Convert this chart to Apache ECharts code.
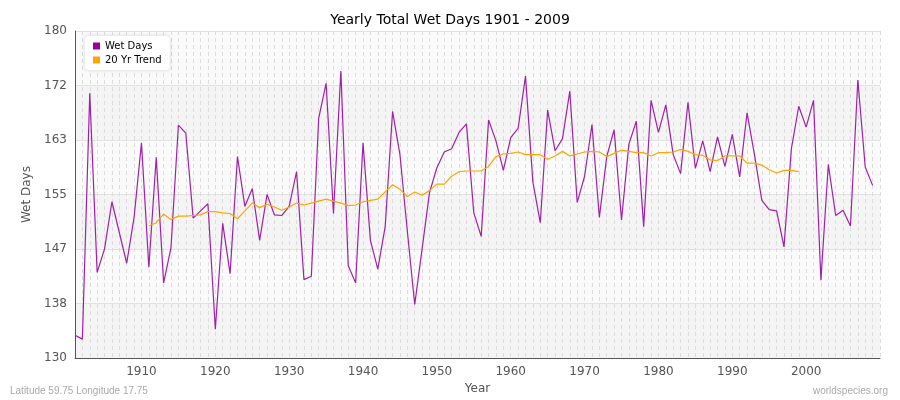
<!DOCTYPE html>
<html>
<head>
<meta charset="utf-8">
<script src="https://cdn.jsdelivr.net/npm/echarts@6/dist/echarts.min.js"></script>
<style>html,body{margin:0;background:#fff}#chart{width:900px;height:400px}</style>
</head>
<body>
<div id="chart"></div>
<script>
var years = [];
for (var y = 1901; y <= 2010; y++) years.push(String(y));

var wetDays = [133.5, 132.9, 170.5, 143.1, 146.7, 153.9, 149.2, 144.5, 151.5, 162.9,
  143.9, 160.7, 141.5, 146.9, 165.6, 164.4, 151.4, 152.5, 153.6, 134.4,
  150.6, 142.9, 160.8, 153.2, 155.9, 148.0, 155.0, 151.9, 151.8, 153.2,
  158.5, 142.0, 142.5, 166.7, 172.0, 152.1, 173.9, 144.1, 141.5, 162.9,
  148.0, 143.6, 150.1, 167.7, 161.1, 149.4, 138.2, 146.7, 155.3, 159.1,
  161.5, 162.0, 164.5, 165.8, 152.2, 148.6, 166.4, 163.2, 158.7, 163.7,
  165.1, 173.1, 156.9, 150.7, 167.9, 161.7, 163.5, 170.8, 153.8, 157.8,
  165.7, 151.5, 160.8, 164.9, 151.1, 162.7, 166.2, 150.1, 169.4, 164.5,
  168.7, 161.1, 158.2, 169.1, 159.0, 163.2, 158.5, 163.8, 159.3, 164.2,
  157.7, 167.5, 161.1, 154.1, 152.7, 152.5, 147.0, 162.0, 168.5, 165.3,
  169.4, 141.9, 159.6, 151.8, 152.6, 150.2, 172.5, 159.2, 156.4];

// 20 yr trend, 1911 - 1999
var trend = [150.2, 150.7, 152.0, 151.2, 151.7, 151.7, 151.8, 151.9, 152.4, 152.4,
  152.2, 152.1, 151.3, 152.5, 153.7, 153.0, 153.5, 153.1, 152.6, 153.1,
  153.7, 153.4, 153.7, 154.0, 154.3, 154.0, 153.7, 153.3, 153.4, 153.9,
  154.1, 154.3, 155.4, 156.5, 155.8, 154.7, 155.4, 154.9, 155.6, 156.6,
  156.6, 157.8, 158.5, 158.6, 158.6, 158.6, 159.3, 160.8, 161.2, 161.3,
  161.5, 161.1, 161.1, 161.1, 160.4, 160.9, 161.6, 160.9, 161.2, 161.5,
  161.6, 161.5, 160.8, 161.3, 161.8, 161.6, 161.4, 161.4, 160.9, 161.4,
  161.4, 161.5, 161.9, 161.6, 161.1, 161.0, 160.3, 160.2, 160.9, 160.9,
  160.9, 159.8, 159.8, 159.5, 158.8, 158.3, 158.7, 158.7, 158.5];

var trendSeries = [];
for (var i = 0; i < years.length; i++) {
  var idx = i - 10;
  trendSeries.push(idx >= 0 && idx < trend.length ? trend[idx] : null);
}

var chart = echarts.init(document.getElementById('chart'));
chart.setOption({
  animation: false,
  textStyle: { fontFamily: 'DejaVu Sans' },
  title: {
    text: 'Yearly Total Wet Days 1901 - 2009',
    left: 'center', top: 8,
    textStyle: { fontSize: 14, fontWeight: 'normal', color: '#000' }
  },
  legend: {
    left: 85, top: 36, orient: 'vertical', itemWidth: 7, itemHeight: 7, itemGap: 4,
    backgroundColor: '#fff', padding: [5, 8],
    borderRadius: 4, shadowColor: 'rgba(0,0,0,0.15)', shadowBlur: 4,
    textStyle: { fontSize: 10, color: '#000' },
    data: [{ name: 'Wet Days', icon: 'rect' }, { name: '20 Yr Trend', icon: 'rect' }]
  },
  grid: { left: 75, right: 20, top: 31, bottom: 38 },
  xAxis: {
    type: 'category', data: years, boundaryGap: false,
    name: 'Year', nameLocation: 'middle', nameGap: 22,
    nameTextStyle: { color: '#555', fontSize: 12 },
    axisLine: { lineStyle: { color: '#555' } },
    axisTick: { show: false },
    axisLabel: {
      color: '#555', fontSize: 12, interval: 0,
      formatter: function (v) { return (+v) % 10 === 0 && +v < 2010 ? v : ''; }
    },
    splitLine: { show: true, interval: 0, lineStyle: { color: '#ddd', type: [4, 3] } }
  },
  yAxis: {
    type: 'value', min: 130, max: 180, interval: 50 / 6,
    name: 'Wet Days', nameLocation: 'middle', nameGap: 40,
    nameTextStyle: { color: '#555', fontSize: 12 },
    axisLine: { show: true, lineStyle: { color: '#555' } },
    axisLabel: { color: '#555', fontSize: 12, formatter: function (v) { return Math.round(v); } },
    splitLine: { lineStyle: { color: '#e2e2e2' } },
    splitArea: { show: true, areaStyle: { color: ['#f4f4f4', '#fafafa'] } }
  },
  series: [
    {
      name: 'Wet Days', type: 'line', data: wetDays, symbol: 'none',
      itemStyle: { color: '#990099' }, lineStyle: { width: 1.2, color: '#a020a8' }
    },
    {
      name: '20 Yr Trend', type: 'line', data: trendSeries, symbol: 'none',
      itemStyle: { color: '#ffa500' }, lineStyle: { width: 1.2, color: '#ffa500' }
    }
  ],
  graphic: [
    { type: 'text', left: 10, top: 386, style: { text: 'Latitude 59.75 Longitude 17.75', fill: '#aaa', fontSize: 10 } },
    { type: 'text', right: 12, top: 386, style: { text: 'worldspecies.org', fill: '#aaa', fontSize: 10 } }
  ]
});
</script>
</body>
</html>
